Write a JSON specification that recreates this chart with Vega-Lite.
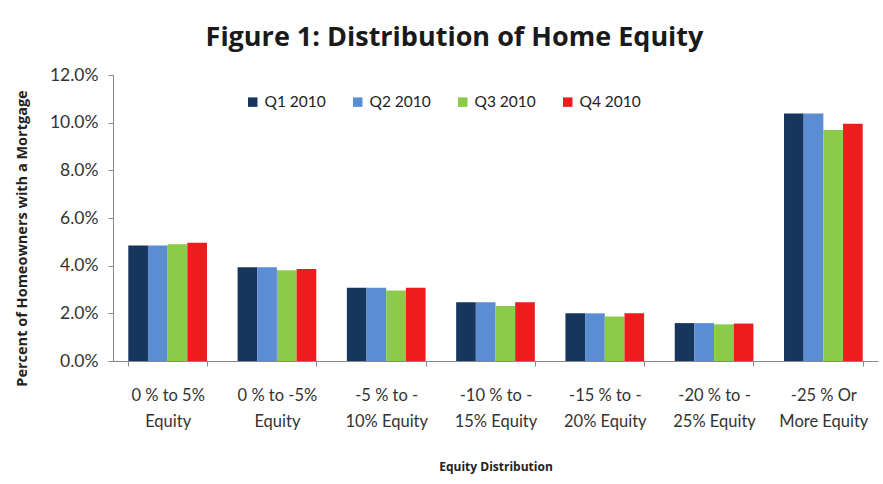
{
  "$schema": "https://vega.github.io/schema/vega-lite/v6.json",
  "autosize": {"type": "none"},
  "width": 765,
  "height": 286,
  "padding": {"left": 113, "top": 75, "right": 5, "bottom": 123},
  "background": "white",
  "config": {
    "font": "Lato",
    "view": {"stroke": null}
  },
  "title": {
    "text": "Figure 1: Distribution of Home Equity",
    "font": "Open Sans",
    "fontSize": 27,
    "fontWeight": "bold",
    "color": "#1a1a1a",
    "anchor": "middle",
    "frame": "group",
    "dx": -41,
    "offset": 14
  },
  "data": {
    "values": [
      {"range": "0 % to 5%|Equity", "quarter": "Q1 2010", "share": 0.0485},
      {"range": "0 % to 5%|Equity", "quarter": "Q2 2010", "share": 0.0485},
      {"range": "0 % to 5%|Equity", "quarter": "Q3 2010", "share": 0.049},
      {"range": "0 % to 5%|Equity", "quarter": "Q4 2010", "share": 0.0496},
      {"range": "0 % to -5%|Equity", "quarter": "Q1 2010", "share": 0.0393},
      {"range": "0 % to -5%|Equity", "quarter": "Q2 2010", "share": 0.0393},
      {"range": "0 % to -5%|Equity", "quarter": "Q3 2010", "share": 0.0381},
      {"range": "0 % to -5%|Equity", "quarter": "Q4 2010", "share": 0.0386},
      {"range": "-5 % to -|10% Equity", "quarter": "Q1 2010", "share": 0.0307},
      {"range": "-5 % to -|10% Equity", "quarter": "Q2 2010", "share": 0.0307},
      {"range": "-5 % to -|10% Equity", "quarter": "Q3 2010", "share": 0.0296},
      {"range": "-5 % to -|10% Equity", "quarter": "Q4 2010", "share": 0.0307},
      {"range": "-10 % to -|15% Equity", "quarter": "Q1 2010", "share": 0.0246},
      {"range": "-10 % to -|15% Equity", "quarter": "Q2 2010", "share": 0.0246},
      {"range": "-10 % to -|15% Equity", "quarter": "Q3 2010", "share": 0.0231},
      {"range": "-10 % to -|15% Equity", "quarter": "Q4 2010", "share": 0.0246},
      {"range": "-15 % to -|20% Equity", "quarter": "Q1 2010", "share": 0.02},
      {"range": "-15 % to -|20% Equity", "quarter": "Q2 2010", "share": 0.02},
      {"range": "-15 % to -|20% Equity", "quarter": "Q3 2010", "share": 0.0187},
      {"range": "-15 % to -|20% Equity", "quarter": "Q4 2010", "share": 0.02},
      {"range": "-20 % to -|25% Equity", "quarter": "Q1 2010", "share": 0.0159},
      {"range": "-20 % to -|25% Equity", "quarter": "Q2 2010", "share": 0.0159},
      {"range": "-20 % to -|25% Equity", "quarter": "Q3 2010", "share": 0.0154},
      {"range": "-20 % to -|25% Equity", "quarter": "Q4 2010", "share": 0.0157},
      {"range": "-25 % Or|More Equity", "quarter": "Q1 2010", "share": 0.1038},
      {"range": "-25 % Or|More Equity", "quarter": "Q2 2010", "share": 0.1038},
      {"range": "-25 % Or|More Equity", "quarter": "Q3 2010", "share": 0.0969},
      {"range": "-25 % Or|More Equity", "quarter": "Q4 2010", "share": 0.0995}
    ]
  },
  "mark": {"type": "bar"},
  "encoding": {
    "x": {
      "field": "range",
      "type": "nominal",
      "sort": null,
      "scale": {"paddingInner": 0.28, "paddingOuter": 0.14},
      "axis": {
        "title": "Equity Distribution",
        "titleFont": "Open Sans",
        "titleFontSize": 12,
        "titleFontWeight": "bold",
        "titleColor": "#222",
        "titlePadding": 32,
        "labelExpr": "split(datum.label, '|')",
        "labelAngle": 0,
        "labelFontSize": 16.5,
        "labelColor": "#333",
        "labelLineHeight": 26,
        "labelPadding": 21,
        "bandPosition": 0,
        "tickBand": "extent",
        "labelBound": false,
        "tickSize": 5,
        "tickColor": "#888",
        "domainColor": "#888",
        "labelOverlap": false
      }
    },
    "xOffset": {"field": "quarter", "type": "nominal"},
    "y": {
      "field": "share",
      "type": "quantitative",
      "scale": {"domain": [0, 0.12]},
      "axis": {
        "title": "Percent of Homeowners with a Mortgage",
        "titleFont": "Open Sans",
        "titleFontSize": 14.5,
        "titleFontWeight": "bold",
        "titleColor": "#222",
        "titlePadding": 20,
        "titleY": 163,
        "format": ".1%",
        "values": [0, 0.02, 0.04, 0.06, 0.08, 0.1, 0.12],
        "labelFontSize": 17.5,
        "labelColor": "#333",
        "labelPadding": 10,
        "tickSize": 5,
        "tickColor": "#888",
        "domainColor": "#888",
        "grid": false
      }
    },
    "color": {
      "field": "quarter",
      "type": "nominal",
      "scale": {
        "domain": ["Q1 2010", "Q2 2010", "Q3 2010", "Q4 2010"],
        "range": ["#17365D", "#5B8DD3", "#8CCB4A", "#EE1C1C"]
      },
      "legend": {
        "title": null,
        "orient": "none",
        "legendX": 132,
        "legendY": 19,
        "direction": "horizontal",
        "symbolType": "square",
        "symbolSize": 90,
        "symbolStrokeWidth": 0,
        "labelFontSize": 15.5,
        "labelColor": "#222",
        "columnPadding": 24
      }
    }
  }
}
